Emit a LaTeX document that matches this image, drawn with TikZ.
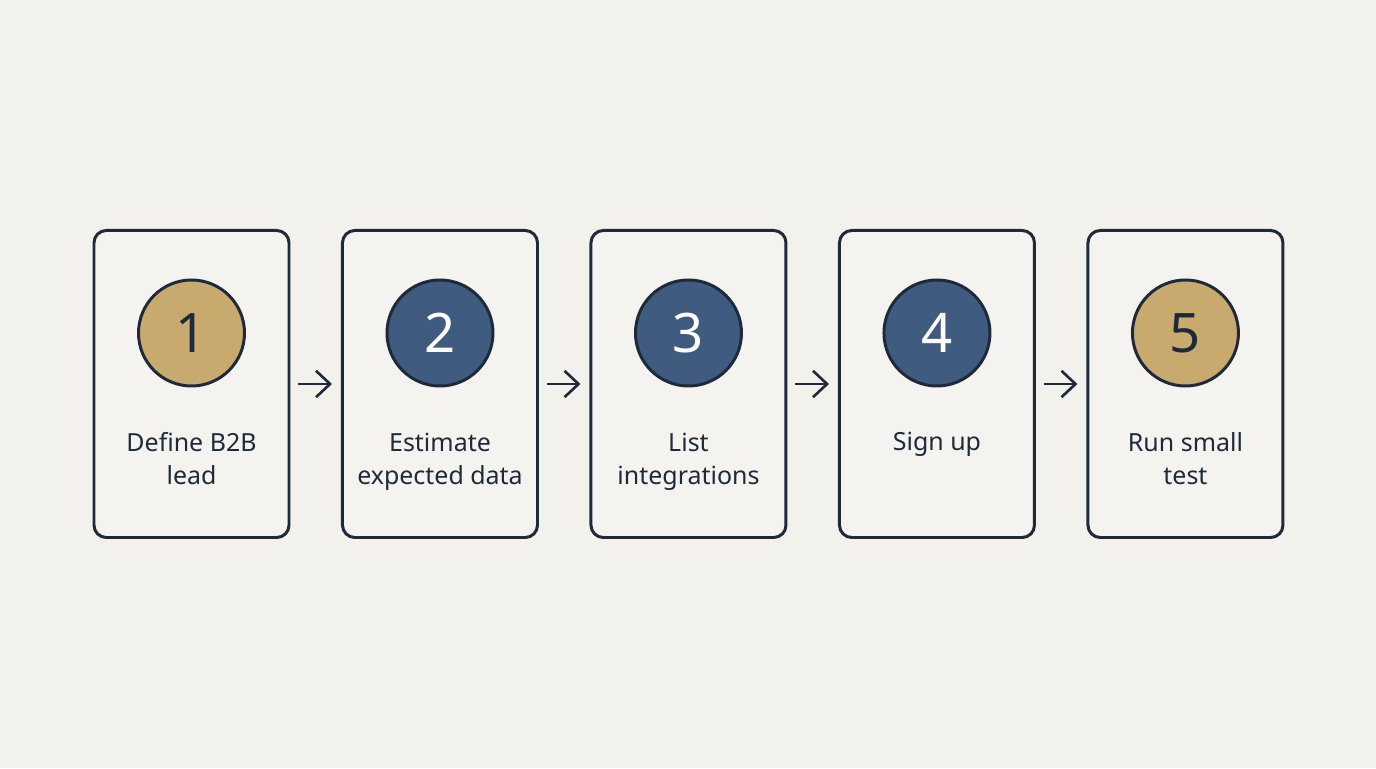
\documentclass[tikz,border=0pt]{standalone}
\usepackage{fontspec}
\setmainfont{Noto Sans}
\usepackage{xcolor}
\definecolor{pagebg}{HTML}{F2F1EC}
\definecolor{boxbg}{HTML}{F4F3EF}
\definecolor{inkdark}{HTML}{1E2A3A}
\definecolor{goldfill}{HTML}{C9AA6E}
\definecolor{navyfill}{HTML}{3F5B80}
\usetikzlibrary{arrows.meta, positioning}

\begin{document}
\begin{tikzpicture}[
        node distance=1.01cm,
        step_box/.style={
            rectangle,
            rounded corners=7pt,
            draw=inkdark,
            fill=boxbg,
            line width=1.7pt,
            minimum width=3.9cm,
            minimum height=6.14cm
        },
        num_badge/.style={
            circle,
            draw=inkdark,
            line width=1.7pt,
            minimum size=2.12cm,
            inner sep=0pt,
            font=\fontsize{31}{36}\selectfont
        },
        gold_badge/.style={num_badge, fill=goldfill, text=inkdark},
        navy_badge/.style={num_badge, fill=navyfill, text=white},
        step_label/.style={
            align=center,
            anchor=base,
            text=inkdark,
            font=\fontsize{14.2}{19.3}\selectfont
        },
        arrow/.style={
            -{Straight Barb[length=8pt, width=15pt, line width=1.5pt]},
            draw=inkdark,
            line width=1.5pt,
            shorten <=0.16cm,
            shorten >=0.18cm
        }
    ]

    % Canvas
    \fill[pagebg] (0,0) rectangle (27.52,15.36);
    \useasboundingbox (0,0) rectangle (27.52,15.36);

    % Step boxes
    \node[step_box] (box1) at (3.83,7.68) {};
    \node[step_box, right=of box1] (box2) {};
    \node[step_box, right=of box2] (box3) {};
    \node[step_box, right=of box3] (box4) {};
    \node[step_box, right=of box4] (box5) {};

    % Numbered badges
    \node[gold_badge] (num1) at ([yshift=1.02cm]box1.center) {1};
    \node[navy_badge] (num2) at ([yshift=1.02cm]box2.center) {2};
    \node[navy_badge] (num3) at ([yshift=1.02cm]box3.center) {3};
    \node[navy_badge] (num4) at ([yshift=1.02cm]box4.center) {4};
    \node[gold_badge] (num5) at ([yshift=1.02cm]box5.center) {5};

    % Labels (anchored at last baseline)
    \node[step_label] (lab1) at ([yshift=-2.02cm]box1.center) {Define B2B\\lead};
    \node[step_label] (lab2) at ([yshift=-2.02cm]box2.center) {Estimate\\expected data};
    \node[step_label] (lab3) at ([yshift=-2.02cm]box3.center) {List\\integrations};
    \node[step_label] (lab4) at ([yshift=-1.34cm]box4.center) {Sign up};
    \node[step_label] (lab5) at ([yshift=-2.02cm]box5.center) {Run small\\test};

    % Connecting arrows
    \draw[arrow] (box1.east) -- (box2.west);
    \draw[arrow] (box2.east) -- (box3.west);
    \draw[arrow] (box3.east) -- (box4.west);
    \draw[arrow] (box4.east) -- (box5.west);

\end{tikzpicture}
\end{document}
